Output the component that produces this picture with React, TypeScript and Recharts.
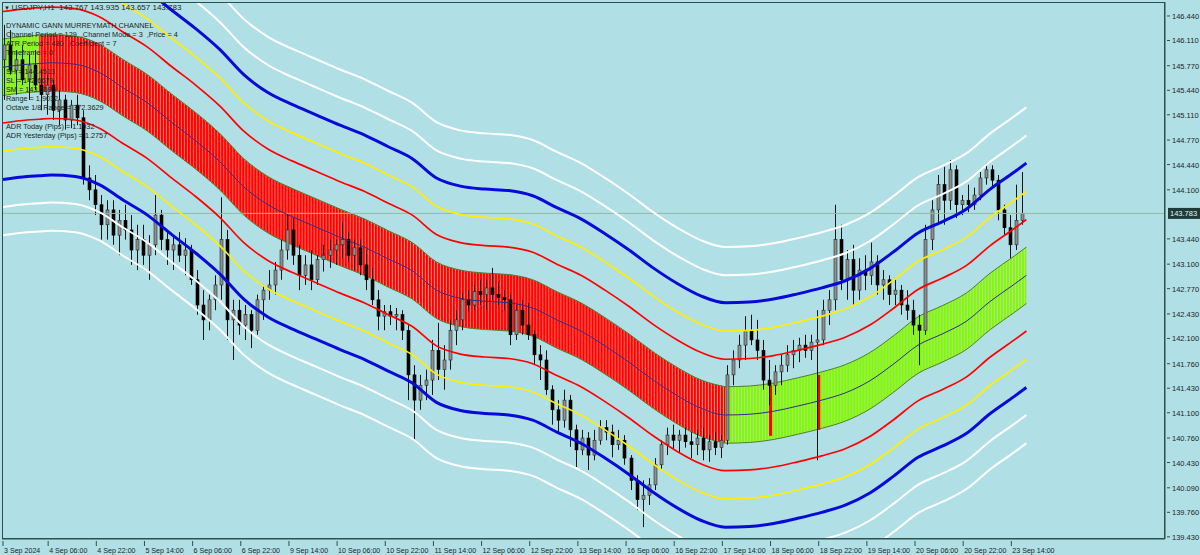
import {
  ComposedChart,
  Area,
  Line,
  Bar,
  XAxis,
  YAxis,
  ReferenceLine,
  ReferenceArea,
} from 'recharts'

// USDJPY H1, each candle here covers two hourly bars
const candles: [number, number, number, number][] = [
  [145.85, 146.32, 145.31, 146.05], [146.05, 146.25, 145.65, 145.71], [145.71, 145.98, 145.38, 145.85],
  [145.85, 146.05, 145.51, 145.58], [145.58, 145.92, 145.31, 145.78], [145.78, 145.98, 145.44, 145.51],
  [145.51, 145.71, 145.17, 145.38], [145.38, 145.65, 145.11, 145.51], [145.51, 145.58, 145.04, 145.17],
  [145.17, 145.44, 144.97, 145.31], [145.31, 145.38, 144.91, 145.04], [145.04, 145.31, 144.93, 145.24],
  [145.24, 145.38, 144.97, 145.07], [145.07, 145.17, 144.17, 144.26], [144.26, 144.43, 143.96, 144.10],
  [144.10, 144.30, 143.76, 143.90], [143.90, 144.03, 143.43, 143.63], [143.63, 143.96, 143.43, 143.83],
  [143.83, 143.96, 143.36, 143.49], [143.49, 143.83, 143.22, 143.69], [143.69, 143.90, 143.43, 143.56],
  [143.56, 143.76, 143.09, 143.29], [143.29, 143.63, 143.02, 143.43], [143.43, 143.63, 143.09, 143.22],
  [143.22, 143.49, 142.89, 143.36], [143.36, 144.03, 143.22, 143.76], [143.76, 143.83, 143.29, 143.43],
  [143.43, 143.56, 143.09, 143.29], [143.29, 143.49, 143.02, 143.36], [143.36, 143.53, 143.13, 143.22],
  [143.22, 143.45, 142.95, 143.29], [143.29, 143.36, 142.82, 142.89], [142.89, 143.02, 142.42, 142.55],
  [142.55, 142.75, 142.08, 142.35], [142.35, 142.69, 142.21, 142.62], [142.62, 142.95, 142.48, 142.82],
  [142.82, 144.00, 142.62, 143.43], [143.43, 143.56, 142.08, 142.35], [142.35, 142.62, 141.81, 142.48],
  [142.48, 142.62, 142.15, 142.28], [142.28, 142.55, 142.08, 142.42], [142.42, 142.48, 141.97, 142.21],
  [142.21, 142.69, 142.15, 142.62], [142.62, 142.82, 142.35, 142.75], [142.75, 143.02, 142.62, 142.82],
  [142.82, 143.13, 142.69, 143.02], [143.02, 143.43, 142.89, 143.29], [143.29, 143.76, 143.16, 143.56],
  [143.56, 143.72, 143.09, 143.22], [143.22, 143.36, 142.75, 142.95], [142.95, 143.22, 142.82, 143.09],
  [143.09, 143.29, 142.75, 142.89], [142.89, 143.22, 142.82, 143.16], [143.16, 143.36, 143.00, 143.22],
  [143.22, 143.43, 143.05, 143.29], [143.29, 143.43, 143.09, 143.36], [143.36, 143.67, 143.18, 143.43],
  [143.43, 143.53, 143.13, 143.22], [143.22, 143.43, 143.02, 143.32], [143.32, 143.43, 142.95, 143.09],
  [143.09, 143.29, 142.75, 142.89], [142.89, 143.05, 142.55, 142.62], [142.62, 142.75, 142.21, 142.40],
  [142.40, 142.55, 142.21, 142.46], [142.46, 142.55, 142.28, 142.40], [142.40, 142.51, 142.21, 142.42],
  [142.42, 142.48, 142.08, 142.21], [142.21, 142.28, 141.27, 141.61], [141.61, 141.74, 140.73, 141.27],
  [141.27, 141.61, 141.14, 141.47], [141.47, 141.68, 141.27, 141.54], [141.54, 142.08, 141.34, 141.94],
  [141.94, 142.31, 141.54, 141.68], [141.68, 142.01, 141.41, 141.81], [141.81, 142.35, 141.68, 142.21],
  [142.21, 142.48, 142.01, 142.35], [142.35, 142.71, 142.21, 142.62], [142.62, 142.75, 142.46, 142.55],
  [142.55, 142.82, 142.48, 142.73], [142.73, 142.89, 142.55, 142.69], [142.69, 142.89, 142.48, 142.78],
  [142.78, 143.05, 142.62, 142.69], [142.69, 142.86, 142.55, 142.65], [142.65, 142.75, 142.48, 142.62],
  [142.62, 142.69, 142.01, 142.15], [142.15, 142.55, 142.08, 142.48], [142.48, 142.62, 142.15, 142.28],
  [142.28, 142.58, 142.08, 142.15], [142.15, 142.21, 141.74, 141.88], [141.88, 142.01, 141.54, 141.81],
  [141.81, 141.94, 141.34, 141.41], [141.41, 141.47, 140.94, 141.14], [141.14, 141.27, 140.83, 141.00],
  [141.00, 141.41, 140.90, 141.27], [141.27, 141.34, 140.64, 140.87], [140.87, 140.94, 140.37, 140.60],
  [140.60, 140.87, 140.53, 140.76], [140.76, 140.84, 140.33, 140.53], [140.53, 140.87, 140.46, 140.73],
  [140.73, 141.00, 140.67, 140.90], [140.90, 141.00, 140.73, 140.84], [140.84, 140.94, 140.50, 140.67],
  [140.67, 140.87, 140.60, 140.73], [140.73, 140.80, 140.40, 140.49], [140.49, 140.53, 140.06, 140.19],
  [140.19, 140.26, 139.79, 139.93], [139.93, 140.19, 139.56, 139.99], [139.99, 140.22, 139.86, 140.13],
  [140.13, 140.49, 140.06, 140.40], [140.40, 140.73, 140.33, 140.67], [140.67, 140.90, 140.53, 140.80],
  [140.80, 140.94, 140.60, 140.73], [140.73, 140.87, 140.57, 140.80], [140.80, 140.90, 140.63, 140.71],
  [140.71, 140.84, 140.49, 140.67], [140.67, 140.87, 140.53, 140.76], [140.76, 140.90, 140.46, 140.60],
  [140.60, 140.80, 140.44, 140.71], [140.71, 140.84, 140.53, 140.63], [140.63, 140.80, 140.49, 140.73],
  [140.73, 141.74, 140.67, 141.61], [141.61, 141.94, 141.47, 141.81], [141.81, 142.15, 141.70, 142.01],
  [142.01, 142.40, 141.81, 142.21], [142.21, 142.42, 142.01, 142.08], [142.08, 142.35, 141.81, 141.94],
  [141.94, 142.08, 141.41, 141.54], [141.54, 141.81, 141.20, 141.47], [141.47, 141.74, 141.34, 141.65],
  [141.65, 141.88, 141.47, 141.74], [141.74, 142.01, 141.65, 141.88], [141.88, 142.08, 141.70, 141.94],
  [141.94, 142.11, 141.78, 142.01], [142.01, 142.15, 141.84, 141.94], [141.94, 142.15, 141.81, 142.05],
  [142.05, 142.48, 140.46, 142.08], [142.08, 142.62, 142.01, 142.48], [142.48, 142.75, 142.28, 142.62],
  [142.62, 143.90, 142.48, 143.43], [143.43, 143.63, 142.75, 142.89], [142.89, 143.29, 142.62, 143.16],
  [143.16, 143.36, 142.55, 142.75], [142.75, 143.18, 142.62, 143.02], [143.02, 143.22, 142.75, 142.95],
  [142.95, 143.39, 142.82, 143.13], [143.13, 143.22, 142.69, 142.82], [142.82, 143.02, 142.62, 142.89],
  [142.89, 142.95, 142.55, 142.69], [142.69, 142.89, 142.55, 142.75], [142.75, 142.82, 142.42, 142.55],
  [142.55, 142.75, 142.35, 142.48], [142.48, 142.62, 142.15, 142.28], [142.28, 142.42, 141.74, 142.21],
  [142.21, 143.63, 142.15, 143.43], [143.43, 143.96, 143.29, 143.83], [143.83, 144.30, 143.63, 144.17],
  [144.17, 144.41, 143.63, 143.96], [143.96, 144.50, 143.83, 144.37], [144.37, 144.43, 143.72, 143.90],
  [143.90, 144.03, 143.76, 143.96], [143.96, 144.17, 143.80, 143.90], [143.90, 144.13, 143.83, 144.03],
  [144.03, 144.34, 143.96, 144.26], [144.26, 144.46, 144.17, 144.37], [144.37, 144.43, 144.13, 144.23],
  [144.23, 144.30, 143.69, 143.83], [143.83, 143.90, 143.49, 143.59], [143.59, 143.76, 143.18, 143.36],
  [143.36, 144.17, 143.29, 143.69], [143.69, 144.34, 143.63, 143.783],
]

// channel centre line, read every 8 hourly bars (bar 0 = 3 Sep 15:00)
const centreBars = [
  0, 8, 12, 16, 24, 32, 40, 48, 56, 64, 72, 80, 88, 96, 104, 112, 120, 128, 136, 144, 152, 160,
  168, 176, 184, 192, 200, 208, 216, 224, 232, 240, 248, 256, 264, 272, 280, 288, 296, 304,
  312, 320, 328, 336, 340,
]
const centrePrices = [
  145.75, 145.79, 145.8, 145.81, 145.79, 145.68, 145.47, 145.27, 145.01, 144.76, 144.48, 144.14,
  143.9, 143.74, 143.6, 143.46, 143.33, 143.17, 143.01, 142.75, 142.64, 142.6, 142.58, 142.51,
  142.35, 142.2, 142.0, 141.78, 141.54, 141.33, 141.16, 141.07, 141.08, 141.12, 141.19, 141.27,
  141.37, 141.53, 141.76, 142.01, 142.16, 142.33, 142.6, 142.83, 142.95,
]
// murrey octave distances from centre: band edge, red, yellow, blue, white, white
const levelOffsets = [0.38, 0.75, 1.13, 1.51, 1.88, 2.26]
// bars where the band switches colour: green -> red -> green
const bandBreaks = [12, 240]
// single red bars inside the green band
const flipStripes = [
  { i: 255, lo: 140.79, hi: 141.47 },
  { i: 271, lo: 140.87, hi: 141.61 },
]

const timeTicks = [0, 15, 31, 47, 63, 79, 95, 111, 127, 143, 159, 175, 191, 207, 223, 239, 255, 271, 287, 303, 319, 335]
const timeLabels = [
  '3 Sep 2024', '4 Sep 06:00', '4 Sep 22:00', '5 Sep 14:00', '6 Sep 06:00', '6 Sep 22:00',
  '9 Sep 14:00', '10 Sep 06:00', '10 Sep 22:00', '11 Sep 14:00', '12 Sep 06:00', '12 Sep 22:00',
  '13 Sep 14:00', '16 Sep 06:00', '16 Sep 22:00', '17 Sep 14:00', '18 Sep 06:00', '18 Sep 22:00',
  '19 Sep 14:00', '20 Sep 06:00', '20 Sep 22:00', '23 Sep 14:00',
]
const currentPrice = 143.783
const priceTicks = [
  146.44, 146.11, 145.77, 145.44, 145.11, 144.77, 144.44, 144.1, currentPrice, 143.44, 143.1,
  142.77, 142.43, 142.1, 141.76, 141.43, 141.1, 140.76, 140.43, 140.09, 139.76, 139.43,
]

const headerText = 'USDJPY,H1  143.767 143.935 143.657 143.783'
const infoLines = [
  'DYNAMIC GANN MURREYMATH CHANNEL',
  'Channel Period = 129  ,Channel Mode = 3  ,Price = 4',
  'ATR Period = 480  ,Coefficient = 7',
  'Timeframe = 0',
  '',
  'SH = 144.4513',
  'SL = 142.6679',
  'SM = 143.5596',
  'Range = 1.9032',
  'Octave 1/8 Range = 372.3629',
  '',
  'ADR Today (Pips) = 1.1932',
  'ADR Yesterday (Pips) = 1.2757',
]

const BG = '#b0e0e6'
const FRAME = '#2f4f4f'
const TEXT = '#1c2424'
const FONT = '"Liberation Sans", Arial, sans-serif'

const candleRows = candles.map(([o, h, l, c], k) => ({ i: 2 * k + 0.5, o, h, l, c }))
const centre = centreBars.map((i, n) => ({ i, p: centrePrices[n] }))
const bandGreenA = centre.filter((d) => d.i <= bandBreaks[0])
const bandRed = centre.filter((d) => d.i >= bandBreaks[0] && d.i <= bandBreaks[1])
const bandGreenB = centre.filter((d) => d.i >= bandBreaks[1])

const levels = [
  { off: levelOffsets[1], color: '#ff0000', width: 1.7 },
  { off: levelOffsets[2], color: '#ffee00', width: 1.7 },
  { off: levelOffsets[3], color: '#0a0ad8', width: 3 },
  { off: levelOffsets[4], color: '#ffffff', width: 2 },
  { off: levelOffsets[5], color: '#ffffff', width: 2 },
]

function Candle(props: any) {
  const { x, y, width, height, payload } = props
  if (!payload) return null
  const { o, h, l, c } = payload
  const top = Math.min(y, y + height)
  const ht = Math.abs(height)
  const cx = Math.round(x + width / 2) + 0.5
  const span = h - l || 1
  const py = (v: number) => top + ((h - v) / span) * ht
  const b0 = py(Math.max(o, c))
  const b1 = py(Math.min(o, c))
  const up = c >= o
  return (
    <g>
      <line x1={cx} x2={cx} y1={top} y2={top + ht} stroke="#151515" strokeWidth={1} />
      <rect
        x={cx - 1.5}
        y={b0}
        width={3}
        height={Math.max(b1 - b0, 1)}
        fill={up ? '#8f8f8f' : '#000000'}
        stroke={up ? '#2a2a2a' : '#000000'}
        strokeWidth={0.6}
      />
    </g>
  )
}

function TimeTick(props: any) {
  const { x, y, payload } = props
  const label = timeLabels[timeTicks.indexOf(payload.value)]
  return (
    <g>
      <line x1={x} x2={x} y1={y} y2={y + 5} stroke={FRAME} />
      <text x={x + 1} y={y + 12} fontSize={7.1} fontFamily={FONT} fill={TEXT}>
        {label}
      </text>
    </g>
  )
}

function PriceTick(props: any) {
  const { x, y, payload } = props
  const v = payload.value
  if (v === currentPrice) {
    return (
      <g>
        <rect x={x + 1} y={y - 5.5} width={32} height={11} fill="#1f3b38" />
        <text x={x + 3} y={y + 3} fontSize={7.5} fontFamily={FONT} fill="#e8f4f0">
          {v.toFixed(3)}
        </text>
      </g>
    )
  }
  return (
    <g>
      <line x1={x} x2={x + 3} y1={y} y2={y} stroke={FRAME} />
      <text x={x + 5} y={y + 3} fontSize={7.5} fontFamily={FONT} fill={TEXT}>
        {v.toFixed(3)}
      </text>
    </g>
  )
}

export default function App() {
  return (
    <div style={{ position: 'absolute', left: 0, top: 0, width: 1200, height: 555, background: BG, overflow: 'hidden' }}>
      <div style={{ position: 'absolute', left: 0, top: 0 }}>
        <ComposedChart width={1200} height={555} data={candleRows} margin={{ top: 2, right: 0, left: 2, bottom: 0 }}>
          <defs>
            <pattern id="stripeRed" patternUnits="userSpaceOnUse" x={1.5} y={0} width={3.01} height={10}>
              <rect x={0} y={0} width={3.01} height={10} fill="#ff8a7a" />
              <rect x={0} y={0} width={2.1} height={10} fill="#ff0000" />
            </pattern>
            <pattern id="stripeGreen" patternUnits="userSpaceOnUse" x={1.5} y={0} width={3.01} height={10}>
              <rect x={0} y={0} width={3.01} height={10} fill="#b9dc96" />
              <rect x={0} y={0} width={2.1} height={10} fill="#7cfc00" />
            </pattern>
          </defs>
          <XAxis
            dataKey="i"
            type="number"
            domain={[-0.33, 386.05]}
            allowDataOverflow
            ticks={timeTicks}
            interval={0}
            tick={<TimeTick />}
            tickLine={false}
            tickSize={0}
            height={16}
            axisLine={{ stroke: FRAME }}
          />
          <YAxis
            orientation="right"
            type="number"
            domain={[139.401, 146.628]}
            allowDataOverflow
            ticks={priceTicks}
            interval={0}
            tick={<PriceTick />}
            tickLine={false}
            tickSize={0}
            width={35}
            axisLine={{ stroke: FRAME }}
          />
          {[
            { id: 'ga', pts: bandGreenA, fill: 'url(#stripeGreen)' },
            { id: 'rd', pts: bandRed, fill: 'url(#stripeRed)' },
            { id: 'gb', pts: bandGreenB, fill: 'url(#stripeGreen)' },
          ].map((b) => (
            <Area
              key={b.id}
              data={b.pts}
              dataKey={(d: any) => [d.p - levelOffsets[0], d.p + levelOffsets[0]]}
              type="monotone"
              fill={b.fill}
              fillOpacity={1}
              stroke="#4f7f2c"
              strokeWidth={1}
              dot={false}
              activeDot={false}
              isAnimationActive={false}
            />
          ))}
          {flipStripes.map((s) => (
            <ReferenceArea
              key={s.i}
              x1={s.i - 0.5}
              x2={s.i + 0.5}
              y1={s.lo}
              y2={s.hi}
              fill="#ff0000"
              fillOpacity={1}
              stroke="none"
            />
          ))}
          <ReferenceLine y={currentPrice} stroke="#93b9a2" strokeWidth={1} />
          <Bar dataKey={(d: any) => [d.l, d.h]} barSize={4} shape={<Candle />} isAnimationActive={false} />
          <Line
            data={centre}
            dataKey="p"
            type="monotone"
            stroke="#2d2d8a"
            strokeWidth={1}
            dot={false}
            activeDot={false}
            isAnimationActive={false}
          />
          {levels.map((lv, n) =>
            [1, -1].map((sgn) => (
              <Line
                key={`${n}-${sgn}`}
                data={centre}
                dataKey={(d: any) => d.p + sgn * lv.off}
                type="monotone"
                stroke={lv.color}
                strokeWidth={lv.width}
                dot={false}
                activeDot={false}
                isAnimationActive={false}
              />
            )),
          )}
        </ComposedChart>
      </div>
      <div style={{ position: 'absolute', left: 2, top: 2, width: 1163, height: 537, border: `1px solid ${FRAME}`, boxSizing: 'border-box', pointerEvents: 'none' }} />
      <div
        style={{
          position: 'absolute',
          left: 6,
          top: 21,
          fontFamily: FONT,
          fontSize: 7.3,
          lineHeight: '9.15px',
          color: TEXT,
          whiteSpace: 'pre',
          pointerEvents: 'none',
        }}
      >
        {infoLines.map((t, n) => (
          <div key={n} style={{ height: 9.15 }}>{t}</div>
        ))}
      </div>
      <div style={{ position: 'absolute', left: 4, top: 3, fontFamily: FONT, fontSize: 8, color: TEXT, whiteSpace: 'pre' }}>
        <span style={{ fontSize: 6 }}>▼ </span>
        {headerText}
      </div>
    </div>
  )
}
